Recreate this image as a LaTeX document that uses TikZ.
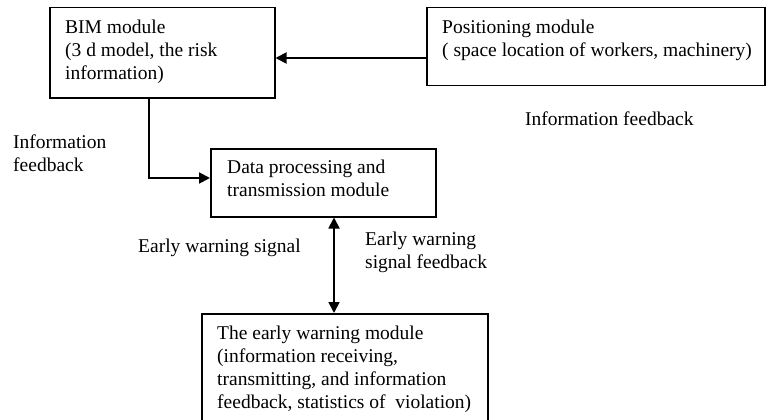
\documentclass[tikz,border=0pt]{standalone}
\usepackage{fontspec}
\setmainfont{Liberation Serif}
\usetikzlibrary{arrows.meta}
\begin{document}
\begin{tikzpicture}[x=1pt,y=-1pt,
  box/.style={draw, line width=1.5pt, inner sep=0pt, anchor=north west},
  txt/.style={anchor=north west, inner sep=0pt, align=left, font=\fontsize{19.5}{23}\selectfont},
  tip/.style={Triangle[length=11pt,width=11pt]},
  conn/.style={line width=1.8pt, -{Triangle[length=11pt,width=11pt]}},
  dconn/.style={line width=1.8pt, {Triangle[length=11pt,width=11pt]}-{Triangle[length=11pt,width=11pt]}}
]
\useasboundingbox (0,0) rectangle (766,420);
\clip (0,0) rectangle (766,420);
% boxes
\node[box, minimum width=225pt, minimum height=90pt] (bim) at (49,7) {};
\node[box, minimum width=338pt, minimum height=78pt] (pos) at (426,7) {};
\node[box, minimum width=225pt, minimum height=68pt] (data) at (210,148) {};
\node[box, minimum width=286pt, minimum height=130pt] (warn) at (201,313) {};
% box texts
\node[txt] (bimtxt) at (65,20) {BIM module\\(3 d model, the risk\\information)};
\node[txt] (postxt) at (442,20) {Positioning module\\( space location of workers, machinery)};
\node[txt] (datatxt) at (227,160) {Data processing and\\transmission module};
\node[txt] (warntxt) at (217,326) {The early warning module\\(information receiving,\\transmitting, and information\\feedback, statistics of\ \ violation)};
% free labels
\node[txt] (infor) at (525,112) {Information feedback};
\node[txt] (infol) at (13,135) {Information\\feedback};
\node[txt] (ews) at (138,239) {Early warning signal};
\node[txt] (ewsf) at (365,232) {Early warning\\signal feedback};
% connectors
\coordinate (ya) at (0,58);
\coordinate (cb) at (149,178);
\coordinate (xd) at (334,0);
\draw[conn] (pos.west |- ya) -- (bim.east |- ya);
\draw[conn] (bim.south -| cb) |- (data.west |- cb);
\draw[dconn] (data.south -| xd) -- (warn.north -| xd);
\end{tikzpicture}
\end{document}
